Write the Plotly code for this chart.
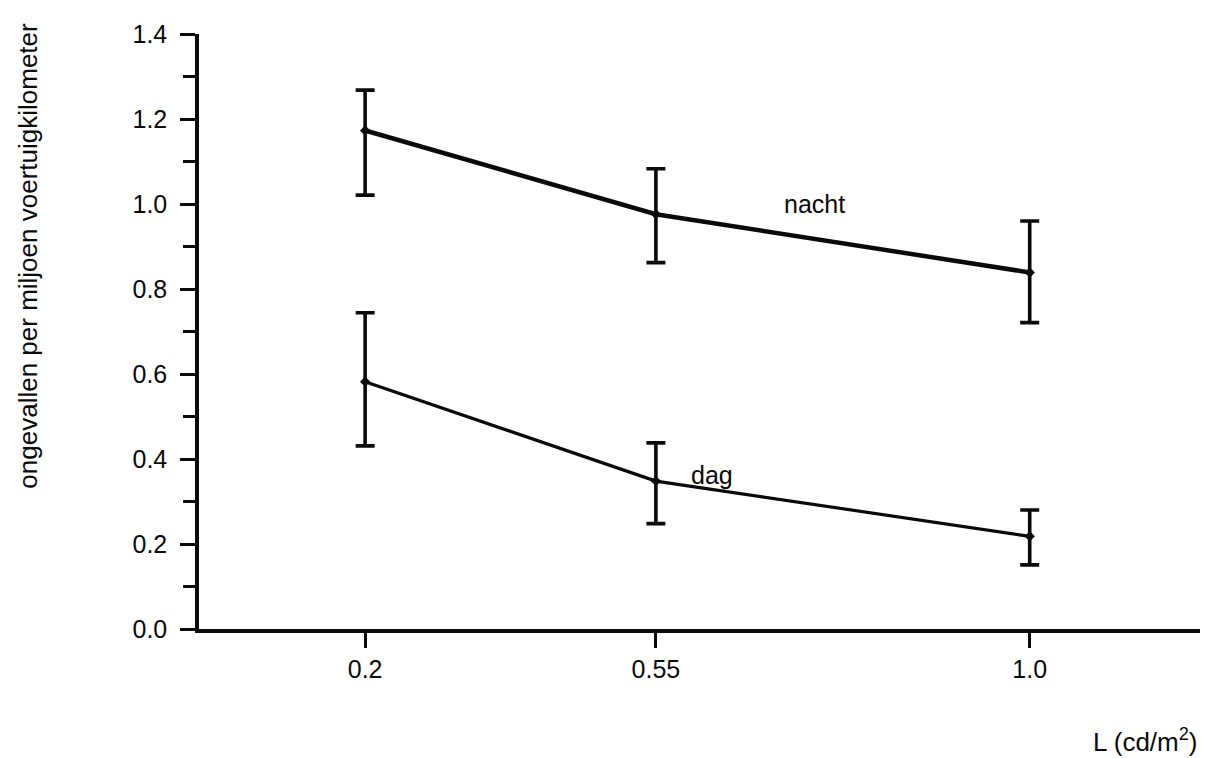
import plotly.graph_objects as go

luminance = [0.2, 0.55, 1.0]
tick_labels = ["0.2", "0.55", "1.0"]

nacht = [1.173, 0.976, 0.839]
nacht_upper = [1.268, 1.083, 0.96]
nacht_lower = [1.021, 0.862, 0.721]

dag = [0.582, 0.348, 0.218]
dag_upper = [0.744, 0.438, 0.28]
dag_lower = [0.431, 0.248, 0.151]

FONT = "Liberation Sans, Arial, sans-serif"
INK = "#0a0a0a"

def errs(vals, up, lo):
    return ([u - v for u, v in zip(up, vals)], [v - l for v, l in zip(vals, lo)])

fig = go.Figure()
for name, vals, up, lo, lw in [("nacht", nacht, nacht_upper, nacht_lower, 4.5),
                               ("dag", dag, dag_upper, dag_lower, 3.2)]:
    e_up, e_lo = errs(vals, up, lo)
    fig.add_trace(go.Scatter(
        x=luminance, y=vals, mode="lines+markers", name=name,
        line=dict(color=INK, width=lw),
        marker=dict(color=INK, size=8, symbol="diamond"),
        error_y=dict(type="data", symmetric=False, array=e_up, arrayminus=e_lo,
                     color=INK, thickness=3.6, width=9.5),
        showlegend=False,
    ))

fig.add_annotation(x=0.741, y=1.0, text="nacht", showarrow=False,
                   xanchor="center", yanchor="middle",
                   font=dict(family=FONT, size=25, color=INK))
fig.add_annotation(x=0.617, y=0.362, text="dag", showarrow=False,
                   xanchor="center", yanchor="middle",
                   font=dict(family=FONT, size=25, color=INK))
fig.add_annotation(xref="paper", yref="paper", x=-0.1708, y=0.6275,
                   xanchor="center", yanchor="middle",
                   text="ongevallen per miljoen voertuigkilometer", textangle=-90,
                   showarrow=False, font=dict(family=FONT, size=26, color=INK))
fig.add_annotation(xref="paper", yref="paper", x=0.946, y=-0.187,
                   xanchor="center", yanchor="middle",
                   text="L (cd/m<sup>2</sup>)", showarrow=False,
                   font=dict(family=FONT, size=26, color=INK))

fig.update_layout(
    width=1209, height=758,
    margin=dict(l=191, r=17, t=17, b=137),
    paper_bgcolor="white", plot_bgcolor="white",
    font=dict(family=FONT, size=25, color=INK),
    xaxis=dict(range=[0, 1.205], tickvals=luminance, ticktext=tick_labels,
               showgrid=False, zeroline=False, showline=True, linecolor=INK,
               linewidth=3.5, ticks="outside", ticklen=15, tickwidth=3,
               tickcolor=INK, ticklabelstandoff=0),
    yaxis=dict(range=[0, 1.4], dtick=0.2, tickformat=".1f",
               showgrid=False, zeroline=False, showline=True, linecolor=INK,
               linewidth=3.5, ticks="outside", ticklen=15, tickwidth=3,
               tickcolor=INK, ticklabelstandoff=8,
               minor=dict(dtick=0.1, ticks="outside", ticklen=12, tickwidth=2.5,
                          tickcolor=INK)),
)

fig.write_html("out.html")
